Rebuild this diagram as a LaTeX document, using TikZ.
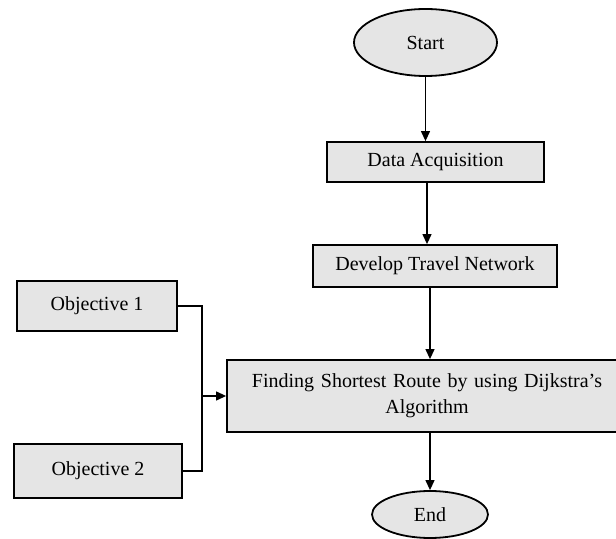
\documentclass[tikz,border=0pt]{standalone}
\usepackage{fontspec}
\setmainfont{Liberation Serif}
\usetikzlibrary{arrows.meta, positioning, shapes.geometric, calc}

\begin{document}
\begin{tikzpicture}[
  x=0.5pt, y=-0.5pt,
  font=\fontsize{10}{13}\selectfont,
  term/.style={draw, ellipse, line width=0.9pt, fill=black!10, inner sep=0pt},
  proc/.style={draw, rectangle, line width=0.9pt, fill=black!10, inner sep=0pt, align=center},
  arr/.style={-{Triangle[length=5pt, width=4.5pt]}, line width=0.6pt},
  lin/.style={line width=0.6pt}
]
\useasboundingbox (0,0) rectangle (616,539);
\node[term, minimum width=71.5pt, minimum height=33.5pt] (start) at (425.5,42.5) {Start};
\node[proc, minimum width=108.5pt, minimum height=20pt] (acq) at (435.5,162) {Data Acquisition};
\node[proc, minimum width=122pt, minimum height=21pt] (net) at (435,266) {Develop Travel Network};
\node[proc, minimum width=200pt, minimum height=36pt, text width=190pt] (route) at (427,396) {Finding Shortest Route by using Dijkstra's\\Algorithm};
\node[term, minimum width=58pt, minimum height=23.5pt] (end) at (430,514.5) {End};
\node[proc, minimum width=80pt, minimum height=25pt] (obj1) at (97,306) {Objective 1};
\node[proc, minimum width=84pt, minimum height=27pt] (obj2) at (98,471) {Objective 2};
\coordinate (join) at (202,396);

\draw[arr] (start.south) -- (start.south |- acq.north);
\draw[arr] ([xshift=-4.25pt]acq.south) -- ([xshift=-4.25pt]acq.south |- net.north);
\draw[arr] ([xshift=-2.5pt]net.south) -- ([xshift=-2.5pt]net.south |- route.north);
\draw[arr] (route.south -| end) -- (end.north);
\draw[lin] (obj1.east) -| (join) |- (obj2.east);
\draw[arr] (join) -- (route.west);
\end{tikzpicture}
\end{document}
